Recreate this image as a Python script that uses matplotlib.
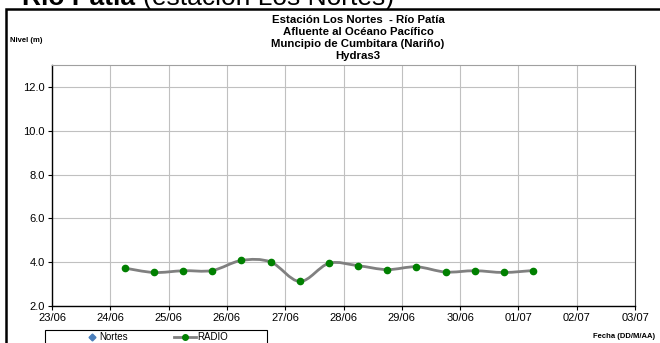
import matplotlib
matplotlib.use("Agg")
import matplotlib.pyplot as plt
import numpy as np
from matplotlib.path import Path
from matplotlib.patches import PathPatch, Rectangle
from matplotlib.lines import Line2D

plt.rcParams['font.family'] = ['Liberation Sans', 'DejaVu Sans']

# data: day offsets from 23/06 (06:00 and 18:00 readings)
times = [1.25, 1.75, 2.25, 2.75, 3.25, 3.75, 4.25, 4.75, 5.25, 5.75, 6.25, 6.75, 7.25, 7.75, 8.25]
radio = [3.73, 3.53, 3.61, 3.62, 4.08, 4.01, 3.12, 3.95, 3.84, 3.66, 3.79, 3.55, 3.61, 3.53, 3.62]
xtick_labels = ['23/06', '24/06', '25/06', '26/06', '27/06', '28/06', '29/06', '30/06', '01/07', '02/07', '03/07']
yticks = [2.0, 4.0, 6.0, 8.0, 10.0, 12.0]
title_lines = ['Estación Los Nortes  - Río Patía', 'Afluente al Océano Pacífico',
               'Muncipio de Cumbitara (Nariño)', 'Hydras3']
legend_labels = ['Nortes', 'RADIO']

fig = plt.figure(figsize=(6.6, 3.43), dpi=100)
W, H = 660, 343

def fx(px):
    return px / W

def fy(py):
    return 1 - py / H

# outer black border
fig.patches.append(Rectangle((fx(6), -0.1), 1.0, fy(9) + 0.1, transform=fig.transFigure,
                             fill=False, edgecolor='black', linewidth=1.8))
# cut-off header text above
fig.text(fx(135), fy(5), 'Río Patía', fontsize=19, fontweight='bold', va='baseline', ha='right')
fig.text(fx(143), fy(5), '(estación Los Nortes)', fontsize=19, va='baseline', ha='left')

ax = fig.add_axes([fx(52), fy(306), (635 - 52) / W, (306 - 65) / H])

# smoothed line (Catmull-Rom as Bezier)
pts = np.column_stack([times, radio])
verts = [tuple(pts[0])]
codes = [Path.MOVETO]
n = len(pts)
for i in range(n - 1):
    p0 = pts[i - 1] if i > 0 else pts[i]
    p1 = pts[i]
    p2 = pts[i + 1]
    p3 = pts[i + 2] if i + 2 < n else pts[i + 1]
    c1 = p1 + (p2 - p0) / 6.0
    c2 = p2 - (p3 - p1) / 6.0
    verts += [tuple(c1), tuple(c2), tuple(p2)]
    codes += [Path.CURVE4] * 3
ax.add_patch(PathPatch(Path(verts, codes), fill=False, edgecolor='#808080', linewidth=2.0, zorder=3))
ax.plot(times, radio, linestyle='none', marker='o', markersize=4.5, color='#008000', zorder=4)

ax.set_xlim(0, 10)
ax.set_ylim(2, 13)
ax.set_xticks(range(11))
ax.set_xticklabels(xtick_labels, fontsize=8)
ax.set_yticks(yticks)
ax.set_yticklabels([f'{v:.1f}' for v in yticks], fontsize=8)
ax.grid(True, color='#c0c0c0', linewidth=0.8)
ax.set_axisbelow(True)
ax.spines['top'].set_color('#a0a0a0')
ax.spines['top'].set_linewidth(0.8)
ax.spines['right'].set_color('#404040')
ax.spines['right'].set_linewidth(0.8)
for s in ['left', 'bottom']:
    ax.spines[s].set_color('black')
    ax.spines[s].set_linewidth(1.0)
ax.tick_params(direction='out', length=3, width=0.8, pad=2)

# title
for k, line in enumerate(title_lines):
    fig.text(fx(358), fy(20 + 12 * k), line, fontsize=8.2, fontweight='bold', ha='center', va='center')
fig.text(fx(10), fy(41), 'Nivel (m)', fontsize=5.5, fontweight='bold', ha='left', va='center')
fig.text(fx(655), fy(337), 'Fecha (DD/M/AA)', fontsize=5.5, fontweight='bold', ha='right', va='center')

# legend (drawn manually in figure pixels, Excel style)
fig.patches.append(Rectangle((fx(45), fy(350)), (267 - 45) / W, (350 - 330) / H,
                             transform=fig.transFigure, fill=False, edgecolor='black', linewidth=0.8))
fig.lines.append(Line2D([fx(92)], [fy(337)], transform=fig.transFigure, linestyle='none',
                        marker='D', markersize=3.5, color='#4a7ebb'))
fig.text(fx(99), fy(337), legend_labels[0], fontsize=7, ha='left', va='center')
fig.lines.append(Line2D([fx(174), fx(196)], [fy(337), fy(337)], transform=fig.transFigure,
                        color='#808080', linewidth=2))
fig.lines.append(Line2D([fx(185)], [fy(337)], transform=fig.transFigure, linestyle='none',
                        marker='o', markersize=4, color='#008000'))
fig.text(fx(197), fy(337), legend_labels[1], fontsize=7, ha='left', va='center')

fig.savefig('out.png', dpi=100)
